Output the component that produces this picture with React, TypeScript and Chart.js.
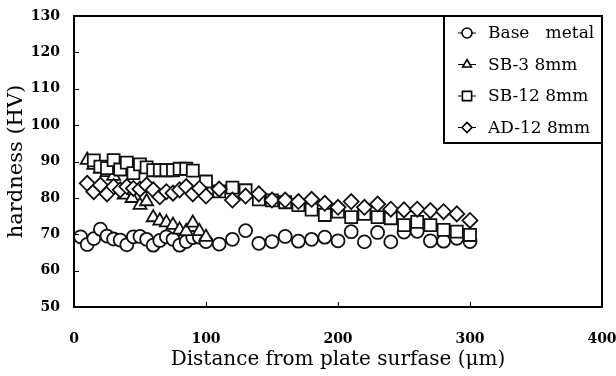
import React, { useEffect, useRef } from "react";
import { Chart, registerables } from "chart.js";
import { drawPoint } from "chart.js/helpers";

Chart.register(...registerables);

// ---- data ----
const baseDist = [5, 10, 15, 20, 25, 30, 35, 40, 45, 50, 55, 60, 65, 70, 75, 80, 85, 90, 95, 100, 110, 120, 130, 140, 150, 160, 170, 180, 190, 200, 210, 220, 230, 240, 250, 260, 270, 280, 290, 300];
const baseHardness = [69.3, 67.2, 68.8, 71.4, 69.5, 68.7, 68.4, 67.1, 69.3, 69.4, 68.6, 67.0, 68.3, 69.3, 68.6, 67.0, 68.0, 69.1, 69.2, 68.0, 67.3, 68.6, 71.0, 67.5, 68.0, 69.4, 68.1, 68.6, 69.2, 68.2, 70.7, 67.9, 70.5, 67.9, 70.6, 70.8, 68.2, 68.1, 68.9, 68.0];

const sb3Dist = [10, 15, 20, 25, 30, 38, 44, 50, 55, 60, 65, 70, 75, 80, 85, 90, 95, 100];
const sb3Hardness = [90.4, 89.0, 88.0, 87.0, 86.0, 80.8, 79.9, 78.0, 79.0, 74.6, 73.7, 73.2, 72.5, 71.2, 70.8, 73.1, 70.8, 69.2];

const sb12Dist = [15, 20, 25, 30, 35, 40, 45, 50, 55, 60, 65, 70, 75, 80, 85, 90, 100, 110, 120, 130, 140, 150, 160, 170, 180, 190, 200, 210, 220, 230, 240, 250, 260, 270, 280, 290, 300];
const sb12Hardness = [90.3, 88.6, 88.2, 90.4, 87.8, 89.7, 86.8, 89.2, 88.4, 87.6, 87.6, 87.6, 87.6, 88.0, 88.0, 87.5, 84.5, 81.8, 82.8, 82.1, 79.6, 79.3, 78.8, 78.0, 76.8, 75.3, 76.2, 74.7, 75.6, 74.7, 74.4, 72.5, 73.4, 72.5, 71.2, 70.7, 69.8];

const ad12Dist = [10, 15, 20, 25, 30, 35, 40, 45, 50, 55, 60, 65, 70, 75, 80, 85, 90, 95, 100, 110, 120, 130, 140, 150, 160, 170, 180, 190, 200, 210, 220, 230, 240, 250, 260, 270, 280, 290, 300];
const ad12Hardness = [84.0, 81.7, 83.5, 81.1, 83.1, 82.2, 83.1, 82.6, 82.4, 83.5, 82.2, 80.3, 81.7, 81.3, 82.2, 83.1, 81.1, 82.6, 80.5, 82.4, 79.4, 80.5, 81.1, 79.4, 79.4, 79.0, 79.6, 78.5, 77.4, 79.0, 77.4, 78.3, 76.9, 76.7, 76.9, 76.5, 76.2, 75.6, 73.8];

const seriesLabels = ["Base   metal", "SB-3 8mm", "SB-12 8mm", "AD-12 8mm"];
const xTicks = [0, 100, 200, 300, 400];
const yTicks = [50, 60, 70, 80, 90, 100, 110, 120, 130];

const toPoints = (xs: number[], ys: number[]) => xs.map((x, i) => ({ x, y: ys[i] }));

const SERIF = "'DejaVu Serif', 'Liberation Serif', serif";

const frameLegendPlugin = {
  id: "frameLegend",
  afterDatasetsDraw(chart: any) {
    const ctx = chart.ctx;
    const a = chart.chartArea;
    ctx.save();
    // frame
    ctx.strokeStyle = "#000";
    ctx.lineWidth = 2;
    ctx.strokeRect(a.left, a.top, a.right - a.left, a.bottom - a.top);
    // inward ticks
    ctx.lineWidth = 1;
    const xs = chart.scales.x;
    const ys = chart.scales.y;
    xTicks.slice(1, -1).forEach((t) => {
      const px = Math.round(xs.getPixelForValue(t)) + 0.5;
      ctx.beginPath();
      ctx.moveTo(px, a.bottom);
      ctx.lineTo(px, a.bottom - 5);
      ctx.stroke();
    });
    yTicks.slice(1, -1).forEach((t) => {
      const py = Math.round(ys.getPixelForValue(t)) + 0.5;
      ctx.beginPath();
      ctx.moveTo(a.left, py);
      ctx.lineTo(a.left + 5, py);
      ctx.stroke();
    });
    // legend box
    const w = 158;
    const h = 127;
    const x0 = a.right - w;
    const y0 = a.top;
    ctx.fillStyle = "#fff";
    ctx.fillRect(x0, y0, w, h);
    ctx.lineWidth = 2;
    ctx.strokeRect(x0, y0, w, h);
    chart.data.datasets.forEach((ds: any, i: number) => {
      const cy = y0 + 17 + i * 31.5;
      const cx = x0 + 23;
      ctx.strokeStyle = "#000";
      ctx.lineWidth = 1;
      ctx.beginPath();
      ctx.moveTo(x0 + 14, cy);
      ctx.lineTo(x0 + 32, cy);
      ctx.stroke();
      ctx.fillStyle = "#fff";
      ctx.lineWidth = 1.6;
      drawPoint(ctx, { pointStyle: ds.pointStyle, radius: ds.pointStyle === "rect" ? 6.5 : 5, borderWidth: 1.6, rotation: 0 }, cx, cy);
      ctx.fillStyle = "#000";
      ctx.font = `17px ${SERIF}`;
      ctx.textBaseline = "middle";
      ctx.textAlign = "left";
      ctx.fillText(seriesLabels[i], x0 + 44, cy + 1);
    });
    ctx.restore();
  },
};

export default function App() {
  const canvasRef = useRef<HTMLCanvasElement | null>(null);

  useEffect(() => {
    if (!canvasRef.current) return;
    const common = {
      showLine: false,
      borderColor: "#111",
      backgroundColor: "#fff",
      pointBackgroundColor: "#fff",
      pointBorderColor: "#111",
      pointBorderWidth: 1.8,
    };
    const chart = new Chart(canvasRef.current, {
      type: "scatter",
      data: {
        datasets: [
          { ...common, label: seriesLabels[0], data: toPoints(baseDist, baseHardness), pointStyle: "circle", pointRadius: 6.5, order: 3 },
          { ...common, label: seriesLabels[1], data: toPoints(sb3Dist, sb3Hardness), pointStyle: "triangle", pointRadius: 7.5, order: 2 },
          { ...common, label: seriesLabels[2], data: toPoints(sb12Dist, sb12Hardness), pointStyle: "rect", pointRadius: 8.5, order: 1 },
          { ...common, label: seriesLabels[3], data: toPoints(ad12Dist, ad12Hardness), pointStyle: "rectRot", pointRadius: 7.5, order: 0 },
        ],
      },
      options: {
        animation: false,
        responsive: false,
        maintainAspectRatio: false,
        layout: { padding: { top: 16, right: 14, left: 0, bottom: 0 } },
        plugins: { legend: { display: false }, tooltip: { enabled: false } },
        scales: {
          x: {
            type: "linear",
            min: 0,
            max: 400,
            afterBuildTicks: (s: any) => { s.ticks = xTicks.map((v) => ({ value: v })); },
            ticks: { font: { family: SERIF, weight: "bold", size: 14 }, color: "#000", padding: 24, maxRotation: 0, minRotation: 0, autoSkip: false },
            grid: { display: false, drawTicks: false },
            border: { display: false },
            title: { display: true, text: "Distance from plate surfase (μm)", font: { family: SERIF, size: 20 }, color: "#000", padding: { top: 0, bottom: 4 } },
            afterFit: (s: any) => { s.height = 69; s.paddingLeft = 0; s.paddingRight = 0; },
          },
          y: {
            type: "linear",
            min: 50,
            max: 130,
            afterBuildTicks: (s: any) => { s.ticks = yTicks.map((v) => ({ value: v })); },
            ticks: { font: { family: SERIF, weight: "bold", size: 14 }, color: "#000", padding: 14, autoSkip: false },
            grid: { display: false, drawTicks: false },
            border: { display: false },
            title: { display: true, text: "hardness (HV)", font: { family: SERIF, size: 21 }, color: "#000", padding: { top: 4, bottom: 0 } },
            afterFit: (s: any) => { s.width = 74; s.paddingTop = 0; s.paddingBottom = 0; },
          },
        },
      },
      plugins: [frameLegendPlugin],
    } as any);
    return () => chart.destroy();
  }, []);

  return (
    <div style={{ position: "fixed", left: 0, top: 0, width: 616, height: 376, background: "#fff" }}>
      <canvas ref={canvasRef} width={616} height={376} style={{ display: "block" }} />
    </div>
  );
}
